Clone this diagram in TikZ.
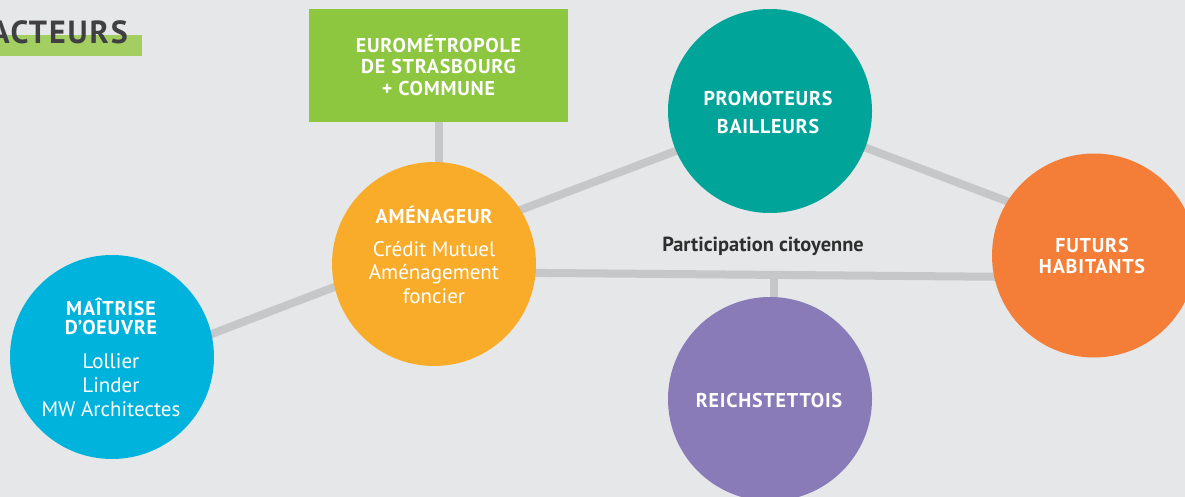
\documentclass[tikz,border=0pt]{standalone}
\usepackage{fontspec}
\setmainfont{PT Sans}
\newfontfamily\trackfont{PT Sans}[LetterSpace=4]
\newfontfamily\titlefont{PT Sans}[LetterSpace=6]
\usetikzlibrary{calc,backgrounds}
\definecolor{bgcol}{HTML}{E6E7E8}
\definecolor{linegray}{HTML}{C6C7C9}
\definecolor{eurogreen}{HTML}{8DC63F}
\definecolor{barcol}{HTML}{A3CF62}
\definecolor{amencol}{HTML}{F9AC2A}
\definecolor{promcol}{HTML}{00A499}
\definecolor{maitcol}{HTML}{00B3DC}
\definecolor{futcol}{HTML}{F47E37}
\definecolor{reichcol}{HTML}{887BB8}
\definecolor{darktxt}{HTML}{2E2E2E}
\definecolor{titletxt}{HTML}{404042}
\tikzset{
  actor/.style={circle, inner sep=0pt, minimum size=204pt, draw=none},
  link/.style={draw=linegray, line width=8pt},
  hdrtxt/.style={text=white, font=\trackfont\bfseries\fontsize{20}{20}\selectfont, anchor=base, inner sep=0pt},
  bodytxt/.style={text=white, font=\fontsize{21}{21}\selectfont, anchor=base, inner sep=0pt},
}
\begin{document}
\begin{tikzpicture}[x=1pt, y=-1pt]
\useasboundingbox (0,0) rectangle (1185,497);
% title
\fill[barcol] (0,35) rectangle (142,56);
\node[text=titletxt, font=\titlefont\bfseries\fontsize{32}{32}\selectfont, anchor=base east, inner sep=0pt] (title) at (128,44) {ACTEURS};
% green box
\node[fill=eurogreen, minimum width=259pt, minimum height=113pt, inner sep=0pt] (eurom) at (438.5,65.5) {};
\node[hdrtxt] (eurom1) at (438.5,53) {EUROMÉTROPOLE};
\node[hdrtxt] (eurom2) at (438.5,74) {DE STRASBOURG};
\node[hdrtxt] (eurom3) at (438.5,96) {+ COMMUNE};
% circles
\node[actor, fill=amencol] (amen) at (434,264) {};
\node[actor, fill=promcol] (prom) at (770,111) {};
\node[actor, fill=futcol] (fut) at (1094,255.5) {};
\node[actor, fill=reichcol] (reich) at (770,399) {};
\node[actor, fill=maitcol] (mait) at (112,357) {};
% texts
\node[hdrtxt] (amen1) at (434,223) {AMÉNAGEUR};
\node[bodytxt] (amen2) at (434,256) {Crédit Mutuel};
\node[bodytxt] (amen3) at (434,279.5) {Aménagement};
\node[bodytxt] (amen4) at (434,303) {foncier};
\node[hdrtxt] (prom1) at (768,106) {PROMOTEURS};
\node[hdrtxt] (prom2) at (768,134) {BAILLEURS};
\node[hdrtxt] (futa) at (1092,252) {FUTURS};
\node[hdrtxt] (futb) at (1092,273) {HABITANTS};
\node[hdrtxt] (reich1) at (769,407) {REICHSTETTOIS};
\node[hdrtxt] (mait1) at (111,315) {MAÎTRISE};
\node[hdrtxt] (mait2) at (111,334) {D’OEUVRE};
\node[bodytxt] (mait3) at (111,368) {Lollier};
\node[bodytxt] (mait4) at (111,392) {Linder};
\node[bodytxt] (mait5) at (111,416) {MW Architectes};
\node[text=darktxt, font=\bfseries\fontsize{20.4}{20.4}\selectfont, anchor=base, inner sep=0pt] (partic) at (763,251) {Participation citoyenne};
% connectors
\begin{pgfonlayer}{background}
\fill[bgcol] (0,0) rectangle (1185,497);
\draw[link] (eurom.center) -- (eurom.center |- amen.center);
\draw[link] ($(mait.13.5)!-10pt!(amen.193)$) -- ($(amen.193)!-10pt!(mait.13.5)$);
\draw[link] ($(amen.32)!-10pt!(prom.203)$) -- ($(prom.203)!-10pt!(amen.32)$);
\draw[link] ($(prom.-21)!-10pt!(fut.148)$) -- ($(fut.148)!-10pt!(prom.-21)$);
\draw[link] ($(amen.-5.5)!-10pt!(fut.192)$) -- ($(fut.192)!-10pt!(amen.-5.5)$);
\coordinate (junc) at ($(amen.-5.5)!0.52!(fut.192)$);
\draw[link] (junc) -- (junc |- reich.center);
\end{pgfonlayer}
\end{tikzpicture}
\end{document}
